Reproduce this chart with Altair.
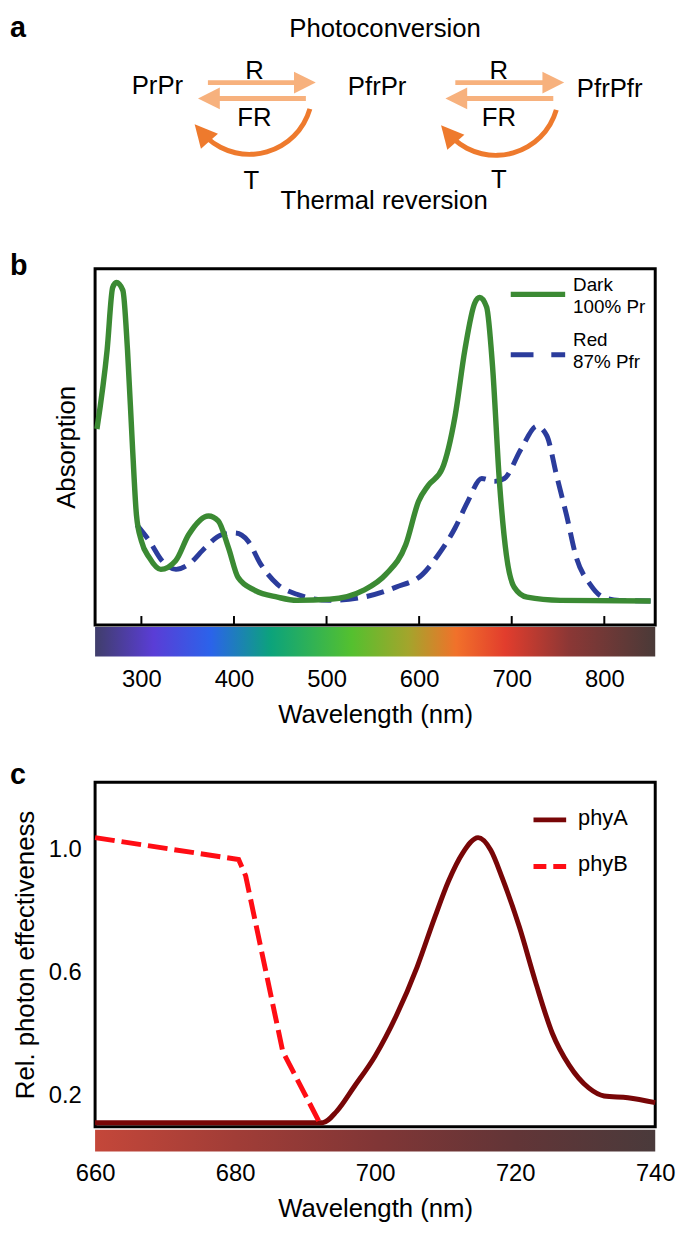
import math
import altair as alt
import pandas as pd

FONT = "Liberation Sans"
W = 566
HA, HB, HC = 208, 360, 348
SPACING = 30
A_TOP = 10   # first diagram unit shown at the top of panel a

LIGHT = "#f7b17d"
DARK = "#ee7a2d"
GREEN = "#3b8a33"
BLUE = "#2b3c9c"
PHYA = "#780607"
PHYB = "#ff0d14"

# ---------------- panel a : photoconversion scheme ----------------
scheme_text = ["Photoconversion", "PrPr", "PfrPr", "PfrPfr", "R", "FR", "R", "FR",
               "T", "T", "Thermal reversion"]
scheme_x = [389, 159, 381, 616, 257, 257, 504, 504, 254, 504, 388]
scheme_y = [25, 83, 84, 86, 67, 115, 67, 115, 178, 177, 199]

light_tail = [210, 309, 460, 559]
light_head = [308, 211, 559, 461]
light_y = [79, 95, 79, 95]
light_dir = ["right", "left", "right", "left"]

thermal_cx = [252, 501]
thermal_cy = [88, 89]

# ---------------- panel b : absorption spectra ----------------
dark_wl = [252, 263, 269, 273, 280, 285, 290.5, 294.7, 300, 308.6, 321, 337, 351,
           372.5, 383, 394, 404.5, 422.6, 447, 468, 503.5, 539.7, 564, 585.5, 599.4,
           610, 625, 638.8, 649.4, 660, 665.4, 672.9, 679.3, 686.7, 694.2, 702.7,
           716.6, 752.7, 850]
dark_abs = [0.55, 0.772, 0.947, 0.961, 0.939, 0.772, 0.494, 0.308, 0.236, 0.189,
            0.156, 0.18, 0.253, 0.306, 0.292, 0.217, 0.133, 0.097, 0.078, 0.069,
            0.072, 0.097, 0.142, 0.225, 0.347, 0.392, 0.439, 0.586, 0.772, 0.903,
            0.919, 0.892, 0.725, 0.403, 0.197, 0.106, 0.078, 0.069, 0.067]
red_wl = [295, 308.6, 322.4, 337.4, 351, 369, 386.3, 401, 415, 429, 447, 468, 503.5,
          539.7, 575, 603.6, 620.7, 638.8, 652.6, 667.6, 681.4, 692, 710.2, 727.2,
          737.9, 748.5, 759.2, 769.8, 784.7, 798.6, 816.7, 850]
red_abs = [0.281, 0.236, 0.18, 0.156, 0.17, 0.217, 0.253, 0.258, 0.236, 0.17, 0.114,
           0.086, 0.069, 0.078, 0.106, 0.142, 0.197, 0.272, 0.347, 0.411, 0.403,
           0.411, 0.494, 0.558, 0.531, 0.419, 0.308, 0.189, 0.114, 0.078, 0.069, 0.067]
b_ticks = [300, 400, 500, 600, 700, 800]
b_domain = [250, 855]
b_spec_wl = [250, 313, 375, 440, 527, 588, 640, 693, 762, 855]
b_spec_col = ["#403e6b", "#5a3dd6", "#2b63ea", "#0ca37b", "#54c02f", "#a3a52c",
              "#f1712a", "#e23d2d", "#8b3735", "#4a3a38"]
b_legend = [["Dark", "100% Pr"], ["Red", "87% Pfr"]]

# ---------------- panel c : photon effectiveness ----------------
phyA_wl = [660, 692.5, 694.5, 697, 700, 703, 706, 708.5, 710.5, 712.5, 714.7, 716.5,
           718.2, 720.6, 722.9, 725.3, 727.7, 730.5, 732.7, 736.1, 740]
phyA_eff = [0.113, 0.113, 0.15, 0.23, 0.33, 0.46, 0.62, 0.78, 0.9, 0.99, 1.04, 1.0,
            0.906, 0.749, 0.571, 0.404, 0.30, 0.226, 0.20, 0.194, 0.178]
phyB_wl = [660, 680.5, 681.5, 686.8, 692]
phyB_eff = [1.04, 0.969, 0.916, 0.345, 0.116]
c_ticks_x = [660, 680, 700, 720, 740]
c_ticks_y = [0.2, 0.6, 1.0]
c_domain_y = [0.1, 1.22]
c_bar_wl = [660, 680, 700, 720, 740]
c_bar_col = ["#c4473a", "#a13d37", "#813636", "#623537", "#4a3a3b"]
c_legend = ["phyA", "phyB"]


def one_row():
    return alt.Chart(pd.DataFrame({"k": [0]}))


def letter(ch, y):
    return one_row().mark_text(text=ch, font=FONT, fontSize=29, fontWeight="bold",
                               align="left", baseline="top", color="black"
                               ).encode(x=alt.value(-86), y=alt.value(y))


def gradient(wls, cols):
    lo, hi = wls[0], wls[-1]
    return {"gradient": "linear", "x1": 0, "x2": 1, "y1": 0, "y2": 0,
            "stops": [{"offset": (w - lo) / (hi - lo), "color": c} for w, c in zip(wls, cols)]}


# ======== panel a ========
sa_x = alt.Scale(domain=[96, 96 + W], nice=False, zero=False)
sa_y = alt.Scale(domain=[A_TOP, A_TOP + HA], nice=False, zero=False, reverse=True)


def ax(f):
    return alt.X(f"{f}:Q", scale=sa_x, axis=None)


def ay(f):
    return alt.Y(f"{f}:Q", scale=sa_y, axis=None)


df_scheme = pd.DataFrame({"label": scheme_text, "x": scheme_x, "y": scheme_y})
a_text = alt.Chart(df_scheme).mark_text(font=FONT, fontSize=26, color="black",
                                        baseline="middle").encode(
    x=ax("x"), y=ay("y"), text="label:N")

df_light = pd.DataFrame({"tail": light_tail, "head": light_head, "y": light_y, "dir": light_dir})
a_shaft = alt.Chart(df_light).mark_rule(color=LIGHT, strokeWidth=5).encode(
    x=ax("tail"), x2="head:Q", y=ay("y"))
a_head_r = alt.Chart(df_light).transform_filter("datum.dir == 'right'").mark_point(
    shape="M-1,-1L1,0L-1,1Z", size=484, filled=True, color=LIGHT, opacity=1, strokeWidth=0
).encode(x=ax("head"), y=ay("y"))
a_head_l = alt.Chart(df_light).transform_filter("datum.dir == 'left'").mark_point(
    shape="M1,-1L-1,0L1,1Z", size=484, filled=True, color=LIGHT, opacity=1, strokeWidth=0
).encode(x=ax("head"), y=ay("y"))

ARC_START, ARC_END, HEAD_AT = 106, 222, 229
R_OUT, R_IN = 66, 61
r_mid = (R_OUT + R_IN) / 2
a_arcs = []
for cx, cy in zip(thermal_cx, thermal_cy):
    a_arcs.append(
        alt.Chart(pd.DataFrame({"cx": [cx], "cy": [cy]})).mark_arc(
            radius=R_OUT, radius2=R_IN, theta=math.radians(ARC_START),
            theta2=math.radians(ARC_END), color=DARK
        ).encode(x=ax("cx"), y=ay("cy"))
    )
df_thead = pd.DataFrame({
    "hx": [cx + r_mid * math.sin(math.radians(HEAD_AT)) for cx in thermal_cx],
    "hy": [cy - r_mid * math.cos(math.radians(HEAD_AT)) for cy in thermal_cy],
})
a_thead = alt.Chart(df_thead).mark_point(
    shape="M0,-1L1,1L-1,1Z", size=520, angle=(HEAD_AT + 90) % 360, filled=True,
    color=DARK, opacity=1, strokeWidth=0
).encode(x=ax("hx"), y=ay("hy"))

panel_a = alt.layer(a_shaft, a_head_r, a_head_l, *a_arcs, a_thead, a_text,
                    letter("a", 0)).properties(
    width=W, height=HA, view=alt.ViewBackground(strokeOpacity=0, strokeWidth=0))

# ======== panel b ========
sb_x = alt.Scale(domain=b_domain, nice=False, zero=False)
sb_y = alt.Scale(domain=[0, 1], nice=False, zero=False)
xb_axis = alt.Axis(values=b_ticks, title="Wavelength (nm)", ticks=False, tickSize=0,
                   domain=False, grid=False, labelPadding=43, titlePadding=11,
                   labelFlush=False, labelOverlap=False)
yb_axis = alt.Axis(title="Absorption", labels=False, ticks=False, tickSize=0,
                   domain=False, grid=False, titlePadding=16)


def bx(f="wl"):
    return alt.X(f"{f}:Q", scale=sb_x, axis=xb_axis)


b_red = alt.Chart(pd.DataFrame({"wl": red_wl, "abs": red_abs})).mark_line(
    color=BLUE, strokeWidth=5, strokeDash=[18, 9], interpolate="monotone").encode(
    x=bx(), y=alt.Y("abs:Q", scale=sb_y, axis=yb_axis))
b_dark = alt.Chart(pd.DataFrame({"wl": dark_wl, "abs": dark_abs})).mark_line(
    color=GREEN, strokeWidth=5.5, interpolate="monotone").encode(
    x=bx(), y=alt.Y("abs:Q", scale=sb_y, axis=yb_axis))
b_bar = alt.Chart(pd.DataFrame({"wl": [b_spec_wl[0]], "wl2": [b_spec_wl[-1]]})).mark_rect(
    fill=gradient(b_spec_wl, b_spec_col)).encode(
    x=bx(), x2="wl2:Q", y=alt.value(HB + 2), y2=alt.value(HB + 32))
b_tick = alt.Chart(pd.DataFrame({"wl": b_ticks})).mark_rule(color="black", strokeWidth=2).encode(
    x=bx(), y=alt.value(HB - 9), y2=alt.value(HB))

b_leg = [
    one_row().mark_rule(color=GREEN, strokeWidth=5.5).encode(
        x=alt.value(420), x2=alt.value(475), y=alt.value(26)),
    one_row().mark_rule(color=BLUE, strokeWidth=5, strokeDash=[23, 18]).encode(
        x=alt.value(420), x2=alt.value(475), y=alt.value(87)),
]
for (l1, l2), yy in zip(b_legend, [17, 72]):
    for txt, dy in [(l1, 0), (l2, 22)]:
        b_leg.append(one_row().mark_text(text=txt, font=FONT, fontSize=19, align="left",
                                         baseline="middle", color="black").encode(
            x=alt.value(483), y=alt.value(yy + dy)))

panel_b = alt.layer(b_red, b_dark, b_bar, b_tick, *b_leg, letter("b", -17)).properties(
    width=W, height=HB, view=alt.ViewBackground(stroke="black", strokeWidth=3))

# ======== panel c ========
sc_x = alt.Scale(domain=[c_ticks_x[0], c_ticks_x[-1]], nice=False, zero=False)
sc_y = alt.Scale(domain=c_domain_y, nice=False, zero=False)
xc_axis = alt.Axis(values=c_ticks_x, title="Wavelength (nm)", ticks=False, tickSize=0,
                   domain=False, grid=False, labelPadding=35, titlePadding=11,
                   labelFlush=False, labelOverlap=False)
yc_axis = alt.Axis(values=c_ticks_y, format=".1f", title="Rel. photon effectiveness",
                   ticks=False, tickSize=0, domain=False, grid=False, labelPadding=14,
                   titlePadding=10, labelFlush=False)


def cx_(f="wl"):
    return alt.X(f"{f}:Q", scale=sc_x, axis=xc_axis)


c_A = alt.Chart(pd.DataFrame({"wl": phyA_wl, "eff": phyA_eff})).mark_line(
    color=PHYA, strokeWidth=5, interpolate="monotone", strokeJoin="round").encode(
    x=cx_(), y=alt.Y("eff:Q", scale=sc_y, axis=yc_axis))
c_B = alt.Chart(pd.DataFrame({"wl": phyB_wl, "eff": phyB_eff})).mark_line(
    color=PHYB, strokeWidth=5, strokeDash=[20, 7]).encode(
    x=cx_(), y=alt.Y("eff:Q", scale=sc_y, axis=yc_axis))
c_bar = alt.Chart(pd.DataFrame({"wl": [c_bar_wl[0]], "wl2": [c_bar_wl[-1]]})).mark_rect(
    fill=gradient(c_bar_wl, c_bar_col)).encode(
    x=cx_(), x2="wl2:Q", y=alt.value(HC + 3), y2=alt.value(HC + 25))

c_leg = [
    one_row().mark_rule(color=PHYA, strokeWidth=5).encode(
        x=alt.value(443), x2=alt.value(476), y=alt.value(38)),
    one_row().mark_rule(color=PHYB, strokeWidth=5, strokeDash=[13, 7]).encode(
        x=alt.value(443), x2=alt.value(476), y=alt.value(85)),
]
for txt, yy in zip(c_legend, [36, 83]):
    c_leg.append(one_row().mark_text(text=txt, font=FONT, fontSize=22, align="left",
                                     baseline="middle", color="black").encode(
        x=alt.value(488), y=alt.value(yy)))

panel_c = alt.layer(c_A, c_B, c_bar, *c_leg, letter("c", -21)).properties(
    width=W, height=HC, view=alt.ViewBackground(stroke="black", strokeWidth=3))

chart = alt.vconcat(panel_a, panel_b, panel_c, spacing=SPACING).properties(
    padding={"left": 0, "top": 0, "right": 0, "bottom": 0},
    autosize=alt.AutoSizeParams(type="pad")
).configure(font=FONT).configure_axis(
    labelFont=FONT, titleFont=FONT, labelFontSize=24, titleFontSize=26,
    titleFontWeight="normal", labelColor="black", titleColor="black"
)

chart.save("out.html", embed_options={"renderer": "svg", "actions": False})
